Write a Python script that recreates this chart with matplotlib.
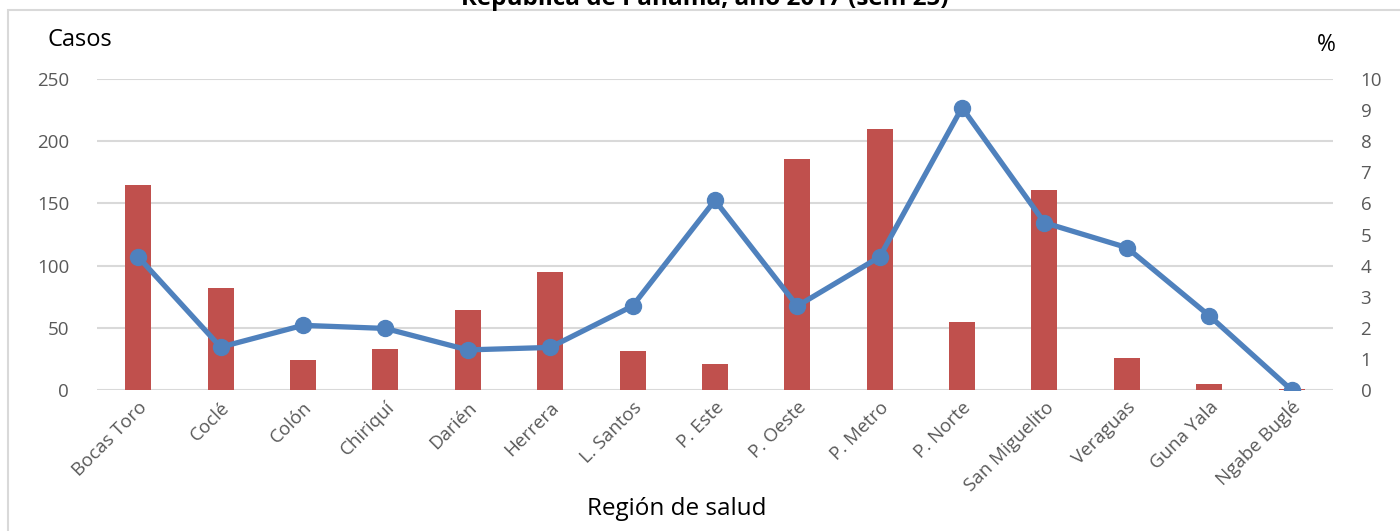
import matplotlib.pyplot as plt
import numpy as np
from matplotlib.patches import Rectangle

# Datos por región de salud
regiones = [
    "Bocas Toro", "Coclé", "Colón", "Chiriquí", "Darién", "Herrera",
    "L. Santos", "P. Este", "P. Oeste", "P. Metro", "P. Norte",
    "San Miguelito", "Veraguas", "Guna Yala", "Ngabe Buglé",
]
casos = [165, 82, 24, 33, 64, 95, 31, 21, 186, 210, 55, 161, 26, 5, 0.5]
porcentaje = [4.28, 1.38, 2.08, 1.98, 1.29, 1.37, 2.70, 6.10, 2.70, 4.28,
              9.08, 5.38, 4.58, 2.39, 0.0]

plt.rcParams["font.family"] = ["Open Sans", "DejaVu Sans"]

fig = plt.figure(figsize=(14, 5.31), dpi=100)
ax = fig.add_axes([0.0693, 0.2655, 0.8827, 0.5857])
ax2 = ax.twinx()

x = np.arange(len(regiones))
ax.bar(x, casos, width=0.315, color="#C0504D", zorder=2)
ax.set_xlim(-0.5, len(regiones) - 0.5)
ax.set_ylim(0, 250)
ax.set_yticks(np.arange(0, 251, 50))
ax.grid(axis="y", color="#D9D9D9", linewidth=1.5, zorder=0)
ax.set_axisbelow(True)

ax2.plot(x, porcentaje, color="#4F81BD", linewidth=3.8, marker="o",
         markersize=11.5, zorder=3)
ax2.set_ylim(0, 10)
ax2.set_yticks(np.arange(0, 11, 1))

for a in (ax, ax2):
    for s in a.spines.values():
        s.set_visible(False)
    a.tick_params(axis="both", length=0, labelsize=13.5, colors="#595959",
                  pad=20)

ax.set_xticks(x)
ax.set_xticklabels(regiones, rotation=45, ha="right", rotation_mode="anchor")
ax.tick_params(axis="x", pad=6)

fig.text(80 / 1400, 1 - 40 / 531, "Casos", fontsize=17, ha="center",
         va="center", color="black")
fig.text(1326 / 1400, 1 - 45 / 531, "%", fontsize=16.5, ha="center",
         va="center", color="black")
fig.text(677 / 1400, 1 - 509 / 531, "Región de salud", fontsize=17.5,
         ha="center", va="center", color="black")
fig.text(705 / 1400, 1 - 5 / 531, "República de Panamá, año 2017 (sem 25)",
         fontsize=17.5, fontweight="bold", ha="center", va="baseline")

# borde del área del gráfico
fig.patches.append(Rectangle((8 / 1400, -0.1), 1.2, 1 - 10 / 531 + 0.1,
                             transform=fig.transFigure, fill=False,
                             edgecolor="#D9D9D9", linewidth=1.5))

fig.savefig("out.png", dpi=100)
